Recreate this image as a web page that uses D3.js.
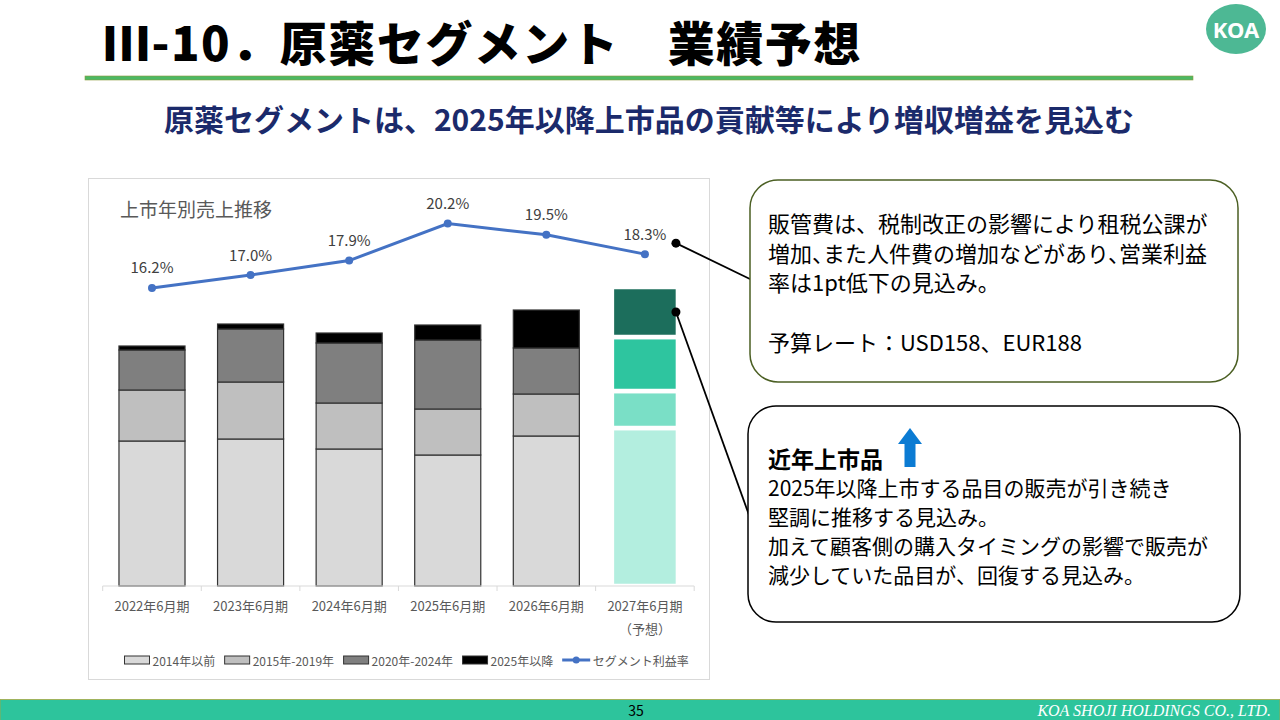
<!DOCTYPE html>
<html lang="ja">
<head>
<meta charset="utf-8">
<title>原薬セグメント 業績予想</title>
<script src="https://cdn.jsdelivr.net/npm/d3@7"></script>
<style>
  body { margin: 0; background: #fff; }
  svg { display: block; font-family: "Noto Sans CJK JP", "Noto Sans", sans-serif; }
  .tight { font-feature-settings: "halt"; }
</style>
</head>
<body>
<div id="slide"></div>
<script>
// 1: DATA (no axis shown so units are relative)
const categories = ["2022年6月期", "2023年6月期", "2024年6月期", "2025年6月期", "2026年6月期", "2027年6月期"];
const seriesNames = ["2014年以前", "2015年-2019年", "2020年-2024年", "2025年以降"];
const pre2014 = [145, 147, 137, 131, 150, 158];
const from2015 = [51, 57, 46, 46, 42, 37];
const from2020 = [40, 53, 60, 69, 46, 54];
const from2025 = [4, 5, 10, 15, 38, 50];
const marginRate = [16.2, 17.0, 17.9, 20.2, 19.5, 18.3];
const lineName = "セグメント利益率";
const forecastNote = "（予想）";

const noteLines = [
    "販管費は、税制改正の影響により租税公課が",
    "増加、また人件費の増加などがあり、営業利益",
    "率は1pt低下の見込み。",
    "",
    "予算レート：USD158、EUR188"
];
const newProductTitle = "近年上市品";
const newProductLines = [
    "2025年以降上市する品目の販売が引き続き",
    "堅調に推移する見込み。",
    "加えて顧客側の購入タイミングの影響で販売が",
    "減少していた品目が、回復する見込み。"
];

const grayColors = ["#D9D9D9", "#BFBFBF", "#7F7F7F", "#000000"];
const forecastColors = ["#B3EEDF", "#7ADFC6", "#2DC59F", "#1C6E5B"];

// 2: SLIDE
const svg = d3.select("#slide").append("svg")
    .attr("width", 1280)
    .attr("height", 720);

const defs = svg.append("defs");
defs.append("filter").attr("id", "soft")
    .append("feGaussianBlur").attr("stdDeviation", 0.7);

// title + rule
svg.append("text")
    .attr("x", 103)
    .attr("y", 40)
    .attr("dominant-baseline", "central")
    .style("font-size", "47px")
    .style("font-weight", 900)
    .style("letter-spacing", "1.5px")
    .text("Ⅲ-10．原薬セグメント　業績予想");

svg.append("rect")
    .attr("x", 85).attr("y", 76)
    .attr("width", 1108).attr("height", 4)
    .attr("fill", "#4CB863")
    .attr("stroke", "#8C9A3C")
    .attr("stroke-width", 0.6);

// logo
svg.append("ellipse")
    .attr("cx", 1236).attr("cy", 29)
    .attr("rx", 30).attr("ry", 25)
    .attr("fill", "#4DB894");
svg.append("text")
    .attr("x", 1236).attr("y", 29)
    .attr("text-anchor", "middle")
    .attr("dominant-baseline", "central")
    .attr("fill", "#fff")
    .style("font-family", "'Noto Sans', sans-serif")
    .style("font-size", "22px")
    .style("font-weight", 700)
    .text("KOA");

svg.append("text")
    .attr("x", 649)
    .attr("y", 118)
    .attr("text-anchor", "middle")
    .attr("dominant-baseline", "central")
    .attr("fill", "#1B2A6B")
    .style("font-size", "30px")
    .style("font-weight", 700)
    .text("原薬セグメントは、2025年以降上市品の貢献等により増収増益を見込む");

// 3: CHART
svg.append("rect")
    .attr("x", 88.5).attr("y", 178.5)
    .attr("width", 621).attr("height", 501)
    .attr("fill", "none")
    .attr("stroke", "#D9D9D9");

svg.append("text")
    .attr("x", 120).attr("y", 208)
    .attr("dominant-baseline", "central")
    .attr("fill", "#595959")
    .style("font-size", "19px")
    .text("上市年別売上推移");

const table = categories.map((c, i) => ({
    cat: c,
    [seriesNames[0]]: pre2014[i],
    [seriesNames[1]]: from2015[i],
    [seriesNames[2]]: from2020[i],
    [seriesNames[3]]: from2025[i]
}));
const stacked = d3.stack().keys(seriesNames)(table);
const lastCat = categories[categories.length - 1];

const x = d3.scaleBand()
    .domain(categories)
    .range([102.7, 694.2])
    .paddingInner(0.33)
    .paddingOuter(0.165);

const y = d3.scaleLinear()
    .domain([0, 300])
    .range([586, 286]);

const y2 = d3.scaleLinear()
    .domain([12, 22])
    .range([355.7, 194.5]);

const chart = svg.append("g");

chart.selectAll("g.layer")
    .data(stacked)
    .enter().append("g")
    .attr("class", "layer")
    .each(function(layer, li) {
        d3.select(this).selectAll("rect")
            .data(layer)
            .enter().append("rect")
            .attr("x", d => x(d.data.cat))
            .attr("y", d => y(d[1]))
            .attr("width", x.bandwidth())
            .attr("height", d => y(d[0]) - y(d[1]))
            .attr("fill", d => d.data.cat === lastCat ? forecastColors[li] : grayColors[li])
            .attr("stroke", d => d.data.cat === lastCat ? "#fff" : "#333")
            .attr("stroke-width", d => d.data.cat === lastCat ? 4.5 : 1.2)
            .attr("filter", d => d.data.cat === lastCat ? "url(#soft)" : null);
    });

// x axis
const xAxis = chart.append("g")
    .attr("transform", `translate(0,${y(0)})`)
    .call(d3.axisBottom(x).tickSize(0).tickPadding(16));
xAxis.select(".domain").remove();
xAxis.append("line")
    .attr("x1", x.range()[0]).attr("x2", x.range()[1])
    .attr("stroke", "#D9D9D9");
const edges = categories.map(c => x(c) - x.step() * x.paddingInner() / 2).concat(x.range()[1]);
xAxis.selectAll("line.edge")
    .data(edges)
    .enter().append("line")
    .attr("class", "edge")
    .attr("x1", d => d).attr("x2", d => d)
    .attr("y1", 0).attr("y2", 5)
    .attr("stroke", "#D9D9D9");
xAxis.selectAll(".tick text")
    .attr("fill", "#595959")
    .style("font-size", "13px")
    .style("font-family", "'Noto Sans CJK JP', sans-serif")
    .each(function(d) {
        if (d === lastCat) {
            d3.select(this).append("tspan")
                .attr("x", 0)
                .attr("dy", "1.75em")
                .text(forecastNote);
        }
    });

// margin line
const cx = d => x(d) + x.bandwidth() / 2;
chart.append("path")
    .datum(marginRate)
    .attr("fill", "none")
    .attr("stroke", "#4472C4")
    .attr("stroke-width", 3)
    .attr("d", d3.line()
        .x((d, i) => cx(categories[i]))
        .y(d => y2(d)));

chart.selectAll("circle.pt")
    .data(marginRate)
    .enter().append("circle")
    .attr("class", "pt")
    .attr("cx", (d, i) => cx(categories[i]))
    .attr("cy", d => y2(d))
    .attr("r", 4)
    .attr("fill", "#4472C4");

chart.selectAll("text.rate")
    .data(marginRate)
    .enter().append("text")
    .attr("class", "rate")
    .attr("x", (d, i) => cx(categories[i]))
    .attr("y", d => y2(d) - 21)
    .attr("text-anchor", "middle")
    .attr("dominant-baseline", "central")
    .attr("fill", "#404040")
    .style("font-size", "15px")
    .text(d => d3.format(".1f")(d) + "%");

// legend
const legend = chart.append("g").attr("transform", "translate(124,660)");
let lx = 0;
seriesNames.concat(lineName).forEach((name, i) => {
    const item = legend.append("g").attr("transform", `translate(${lx},0)`);
    let w;
    if (i < seriesNames.length) {
        item.append("rect")
            .attr("x", 0.5).attr("y", -4)
            .attr("width", 25).attr("height", 8)
            .attr("fill", grayColors[i])
            .attr("stroke", "#333")
            .attr("stroke-width", 1);
        w = 26;
    } else {
        item.append("line")
            .attr("x1", 0).attr("x2", 28)
            .attr("stroke", "#4472C4").attr("stroke-width", 3);
        item.append("circle")
            .attr("cx", 14).attr("r", 3.5)
            .attr("fill", "#4472C4");
        w = 28;
    }
    const t = item.append("text")
        .attr("x", w + 2.5)
        .attr("dominant-baseline", "central")
        .attr("fill", "#595959")
        .style("font-size", "12px")
        .text(name);
    lx += w + 2.5 + t.node().getComputedTextLength() + 9;
});

// 4: CALLOUTS
const lastIdx = categories.length - 1;
const barRight = x(lastCat) + x.bandwidth();
const topSeg = stacked[stacked.length - 1][lastIdx];
const pointers = [
    { from: [barRight - 2, y2(marginRate[lastIdx]) - 11], to: [752, 280] },
    { from: [barRight - 2, y((topSeg[0] + topSeg[1]) / 2)], to: [749, 515] }
];
pointers.forEach(p => {
    svg.append("line")
        .attr("x1", p.from[0]).attr("y1", p.from[1])
        .attr("x2", p.to[0]).attr("y2", p.to[1])
        .attr("stroke", "#000").attr("stroke-width", 1.8);
    svg.append("circle")
        .attr("cx", p.from[0]).attr("cy", p.from[1])
        .attr("r", 4.5).attr("fill", "#000");
});

// squeeze punctuation only on lines that would overflow the box
const fitLine = function() {
    if (this.getComputedTextLength() > 445) d3.select(this).classed("tight", true);
};

svg.append("rect")
    .attr("x", 750).attr("y", 180)
    .attr("width", 488).attr("height", 202)
    .attr("rx", 28)
    .attr("fill", "#fff")
    .attr("stroke", "#4B5F23")
    .attr("stroke-width", 1.5);

svg.selectAll("text.note")
    .data(noteLines)
    .enter().append("text")
    .attr("class", "note")
    .attr("x", 768)
    .attr("y", (d, i) => 222 + i * 29.7)
    .attr("dominant-baseline", "central")
    .attr("fill", "#000")
    .style("font-size", "22px")
    .text(d => d)
    .each(fitLine);

svg.append("rect")
    .attr("x", 748).attr("y", 406)
    .attr("width", 492).attr("height", 216)
    .attr("rx", 28)
    .attr("fill", "#fff")
    .attr("stroke", "#000")
    .attr("stroke-width", 1.5);

svg.append("text")
    .attr("x", 768).attr("y", 458)
    .attr("dominant-baseline", "central")
    .attr("fill", "#000")
    .style("font-size", "23px")
    .style("font-weight", 700)
    .text(newProductTitle);

svg.append("path")
    .attr("d", "M910,428 L922,444 L915.5,444 L915.5,467 L904.5,467 L904.5,444 L898,444 Z")
    .attr("fill", "#0B7BD3");

svg.selectAll("text.np")
    .data(newProductLines)
    .enter().append("text")
    .attr("class", "np")
    .attr("x", 768)
    .attr("y", (d, i) => 487 + i * 29)
    .attr("dominant-baseline", "central")
    .attr("fill", "#000")
    .style("font-size", "21px")
    .text(d => d)
    .each(fitLine);

// 5: FOOTER
svg.append("rect")
    .attr("x", 0).attr("y", 699.5)
    .attr("width", 1280).attr("height", 21)
    .attr("fill", "#2DC49C")
    .attr("stroke", "#A3A842")
    .attr("stroke-width", 0.8);

svg.append("text")
    .attr("x", 636).attr("y", 710)
    .attr("text-anchor", "middle")
    .attr("dominant-baseline", "central")
    .attr("fill", "#000")
    .style("font-size", "14px")
    .text("35");

svg.append("text")
    .attr("x", 1271).attr("y", 710)
    .attr("text-anchor", "end")
    .attr("dominant-baseline", "central")
    .attr("fill", "#fff")
    .style("font-family", "'Liberation Serif', serif")
    .style("font-style", "italic")
    .style("font-size", "16px")
    .text("KOA SHOJI HOLDINGS CO., LTD.");
</script>
</body>
</html>
